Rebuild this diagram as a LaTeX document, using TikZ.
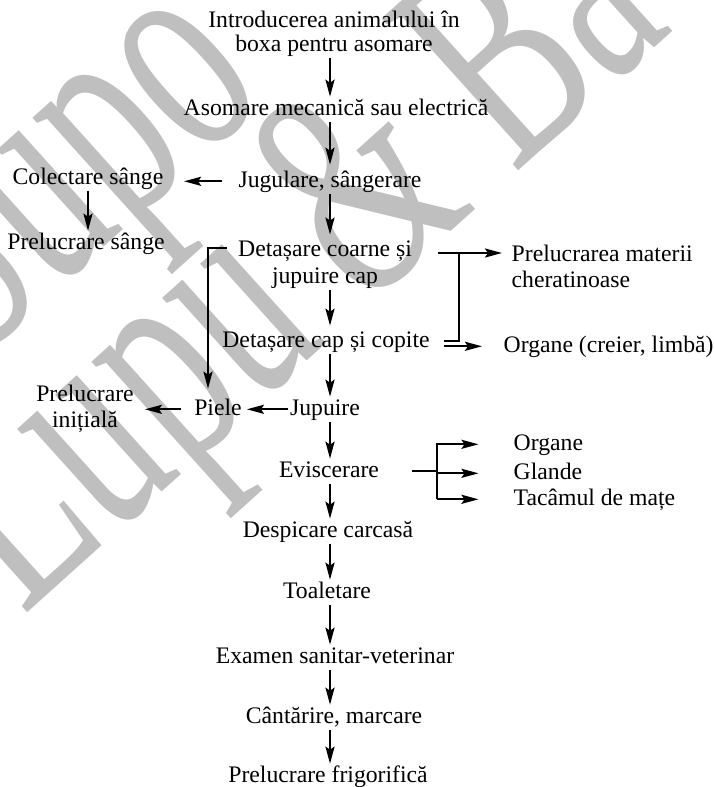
\documentclass[tikz,border=0pt]{standalone}
\usepackage{fontspec}
\setmainfont{Liberation Serif}
\usetikzlibrary{arrows.meta}
\begin{document}
\begin{tikzpicture}[x=1pt,y=-1pt,
  every node/.style={font=\fontsize{23.7}{26}\selectfont, inner sep=1.5pt},
  stage/.style={anchor=base, text height=16.6pt, text depth=5.2pt},
  multi/.style={anchor=base, align=center},
  side/.style={anchor=base west, text height=16.6pt, text depth=5.2pt},
  line/.style={line width=2.3pt},
  arr/.style={line width=2.3pt, -{Stealth[length=17pt,width=9pt,inset=3pt]}},
  wmark/.style={font=\fontsize{195}{195}\selectfont, text=black!25, inner sep=0pt, anchor=base west}
]
\useasboundingbox (0,0) rectangle (713,787);
\fill[white] (0,0) rectangle (713,787);

% background lettering, stretched and turned
\begin{scope}
  \clip (0,0) rectangle (713,787);
  \begin{scope}[shift={(23,617)}, rotate=42, yscale=1.6, transform shape]
    \node[wmark] (wm2) at (0pt,0pt) {Lupu \& Ba};
    \node[wmark] (wm1) at (131pt,138pt) {Supo};
  \end{scope}
\end{scope}

% main sequence
\node[multi, font=\fontsize{23.7}{24}\selectfont] (intro) at (334,51) {Introducerea animalului în\\boxa pentru asomare};
\node[stage]  (asomare)   at (336,115) {Asomare mecanică sau electrică};
\node[stage]  (jugulare)  at (330,187) {Jugulare, sângerare};
\node[multi, font=\fontsize{23.7}{27}\selectfont] (detcoarne) at (325,283) {Detașare coarne și\\jupuire cap};
\node[stage]  (detcap)    at (326,347) {Detașare cap și copite};
\node[stage]  (jupuire)   at (325,415) {Jupuire};
\node[stage]  (evisc)     at (329,477) {Eviscerare};
\node[stage]  (despicare) at (328,537) {Despicare carcasă};
\node[stage]  (toaletare) at (327,598) {Toaletare};
\node[stage]  (examen)    at (335,663) {Examen sanitar-veterinar};
\node[stage]  (cantarire) at (334,723) {Cântărire, marcare};
\node[stage]  (frigo)     at (328,782) {Prelucrare frigorifică};

% side products
\node[stage]  (colectare) at (88,184)  {Colectare sânge};
\node[stage]  (prelsange) at (86,249)  {Prelucrare sânge};
\node[stage]  (piele)     at (218,415) {Piele};
\node[multi]  (prelinit)  at (85,427)  {Prelucrare\\inițială};
\node[anchor=base west, align=left] (prelmat) at (510,287) {Prelucrarea materii\\cheratinoase};
\node[side]   (organecap) at (502,352) {Organe (creier, limbă)};
\node[side]   (organeb)   at (512,450) {Organe};
\node[side]   (glande)    at (512,479) {Glande};
\node[side]   (tacamul)   at (512,505) {Tacâmul de mațe};

% spine of the main sequence
\coordinate (spine) at (330,0);
\draw[arr] (intro.south -| spine) -- (asomare.north -| spine);
\draw[arr] (asomare.south -| spine) -- ([yshift=4pt]jugulare.north -| spine);
\draw[arr] (jugulare.south -| spine) -- ([yshift=4pt]detcoarne.north -| spine);
\draw[arr] (detcoarne.south -| spine) -- ([yshift=3pt]detcap.north -| spine);
\draw[arr] (detcap.south -| spine) -- (jupuire.north -| spine);
\draw[arr] (jupuire.south -| spine) -- (evisc.north -| spine);
\draw[arr] (evisc.south -| spine) -- (despicare.north -| spine);
\draw[arr] (despicare.south -| spine) -- (toaletare.north -| spine);
\draw[arr] (toaletare.south -| spine) -- (examen.north -| spine);
\draw[arr] (examen.south -| spine) -- (cantarire.north -| spine);
\draw[arr] (cantarire.south -| spine) -- (frigo.north -| spine);

% blood
\draw[arr, shorten <=15pt, shorten >=19pt] (jugulare.west) -- (jugulare.west -| colectare.east);
\draw[arr] (colectare.south) -- (colectare.south |- prelsange.north);

% hide
\coordinate (skinline) at (208,0);
\draw[arr, shorten >=8pt] ([xshift=-9.5pt,yshift=35pt]detcoarne.base west) -| (skinline |- piele.north);
\draw[arr, shorten >=3.5pt] (jupuire.west) -- (piele.east);
\draw[arr, shorten <=11.5pt, shorten >=9.5pt] (piele.west) -- (piele.west -| prelinit.east);

% horns, hooves and head organs
\coordinate (kfork) at (459,253);
\coordinate (capout) at ([xshift=12.5pt]detcap.east);
\draw[arr] ([xshift=24.5pt,yshift=30pt]detcoarne.base east) -- ([xshift=-8pt,yshift=34pt]prelmat.base west);
\draw[line] (capout) -| (kfork);
\draw[arr] (capout |- organecap.west) -- ([xshift=-20pt]organecap.west);

% evisceration products
\coordinate (evout) at ([xshift=31.5pt]evisc.east);
\coordinate (evfork) at ([xshift=56pt]evisc.east);
\draw[line] (evout) -- (evfork);
\draw[arr] (evfork |- tacamul.west) |- ([xshift=-33.5pt]organeb.west);
\draw[arr] (evfork |- glande.west) -- ([xshift=-33.5pt]glande.west);
\draw[arr] (evfork |- tacamul.west) -- ([xshift=-33.5pt]tacamul.west);
\end{tikzpicture}
\end{document}
